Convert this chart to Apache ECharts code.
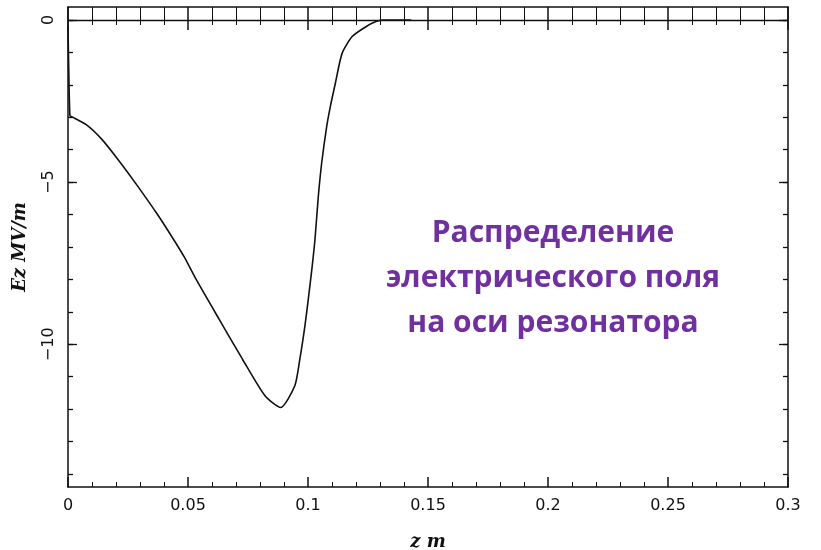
<!DOCTYPE html>
<html>
<head>
<meta charset="utf-8">
<script src="https://cdn.jsdelivr.net/npm/echarts@6/dist/echarts.min.js"></script>
<style>
html,body{margin:0;padding:0;background:#fff;}
#chart{width:821px;height:550px;}
</style>
</head>
<body>
<div id="chart"></div>
<script>
// ---- data ----
const zValues = [0, 0.0003, 0.0008, 0.0015, 0.0076, 0.0142, 0.0209, 0.0291, 0.0373, 0.044, 0.0486, 0.0534, 0.063, 0.0727, 0.0821, 0.0886, 0.0945, 0.0966, 0.0987, 0.1001, 0.1016, 0.1029, 0.1043, 0.1057, 0.1078, 0.1093, 0.1114, 0.1142, 0.1184, 0.1241, 0.1283, 0.131, 0.143];
const ezValues = [-0.2, -1.5, -2.95, -2.98, -3.23, -3.69, -4.31, -5.13, -6.0, -6.77, -7.33, -8.0, -9.23, -10.46, -11.59, -11.95, -11.28, -10.46, -9.44, -8.62, -7.69, -6.77, -5.44, -4.41, -3.28, -2.67, -1.95, -1.03, -0.51, -0.21, -0.05, 0, 0];
const xTickLabels = ['0', '0.05', '0.1', '0.15', '0.2', '0.25', '0.3'];
const yMajorTicks = [0, -5, -10];
const yMajorLabels = ['0', '\u22125', '\u221210'];
const yMinorTicks = [0, -1, -2, -3, -4, -5, -6, -7, -8, -9, -10, -11, -12, -13, -14];
const xAxisName = 'z m';
const yAxisName = 'Ez MV/m';
const noteLines = ['Распределение', 'электрического поля', 'на оси резонатора'];

const X_MIN = 0, X_MAX = 0.3, X_STEP = 0.05;
const Y_MIN = -14.4, Y_MAX = 0.4;

const ink = '#111111';
const chart = echarts.init(document.getElementById('chart'), null, {renderer: 'canvas'});

function xAxisCfg(pos, majorLen, minorLen, showLabel) {
  return {
    type: 'value', position: pos, min: X_MIN, max: X_MAX, interval: X_STEP,
    axisLine: {show: true, onZero: false, lineStyle: {color: ink, width: 1.5}},
    axisTick: {show: true, inside: true, length: majorLen, lineStyle: {color: ink, width: 1.5}},
    minorTick: {show: true, splitNumber: 5, length: minorLen, lineStyle: {color: ink, width: 1}},
    splitLine: {show: false}, minorSplitLine: {show: false},
    axisLabel: {show: showLabel, margin: 11, color: ink, fontFamily: 'DejaVu Sans', fontSize: 16,
      formatter: (v, i) => xTickLabels[i]},
    name: showLabel ? xAxisName : '',
    nameLocation: 'middle', nameGap: 46,
    nameTextStyle: {fontFamily: 'DejaVu Serif', fontStyle: 'italic', fontWeight: 'bold', fontSize: 18, color: ink}
  };
}
function yAxisCfg(pos, ticks, len, showLabel, showLine) {
  return {
    type: 'value', position: pos, min: Y_MIN, max: Y_MAX, offset: 0,
    axisLine: {show: showLine, onZero: false, lineStyle: {color: ink, width: 1.5}},
    axisTick: {show: true, inside: true, length: len, customValues: ticks, lineStyle: {color: ink, width: 1.3}},
    splitLine: {show: false},
    axisLabel: {show: showLabel, customValues: yMajorTicks, rotate: 90, margin: 11, color: ink,
      fontFamily: 'DejaVu Sans', fontSize: 16,
      formatter: v => yMajorLabels[yMajorTicks.indexOf(Math.round(v))]},
    name: showLabel ? yAxisName : '',
    nameLocation: 'middle', nameGap: 39, nameRotate: 90,
    nameTextStyle: {fontFamily: 'DejaVu Serif', fontStyle: 'italic', fontWeight: 'bold', fontSize: 18, color: ink}
  };
}

const option = {
  backgroundColor: '#ffffff',
  animation: false,
  grid: {left: 68, right: 33, top: 7, bottom: 63, containLabel: false, outerBoundsMode: 'none'},
  xAxis: [xAxisCfg('bottom', 10, 5, true), xAxisCfg('top', 23, 18, false)],
  yAxis: [
    yAxisCfg('left', yMajorTicks, 9, true, true),
    yAxisCfg('left', yMinorTicks, 5, false, false),
    yAxisCfg('right', yMajorTicks, 9, false, true),
    yAxisCfg('right', yMinorTicks, 5, false, false)
  ],
  series: [{
    type: 'line', xAxisIndex: 0, yAxisIndex: 0,
    data: zValues.map((z, i) => [z, ezValues[i]]),
    showSymbol: false, smooth: 0.22,
    lineStyle: {color: ink, width: 1.6},
    markLine: {
      silent: true, symbol: 'none', label: {show: false},
      lineStyle: {color: ink, width: 1.3, type: 'solid'},
      data: [{yAxis: 0}]
    }
  }],
  graphic: noteLines.map((t, i) => ({
    type: 'text', x: 553, y: 233 + i * 45,
    style: {text: t, textAlign: 'center', textVerticalAlign: 'middle',
      fill: '#7030a0', font: 'bold 30px "Open Sans"'}
  }))
};
chart.setOption(option);
</script>
</body>
</html>
